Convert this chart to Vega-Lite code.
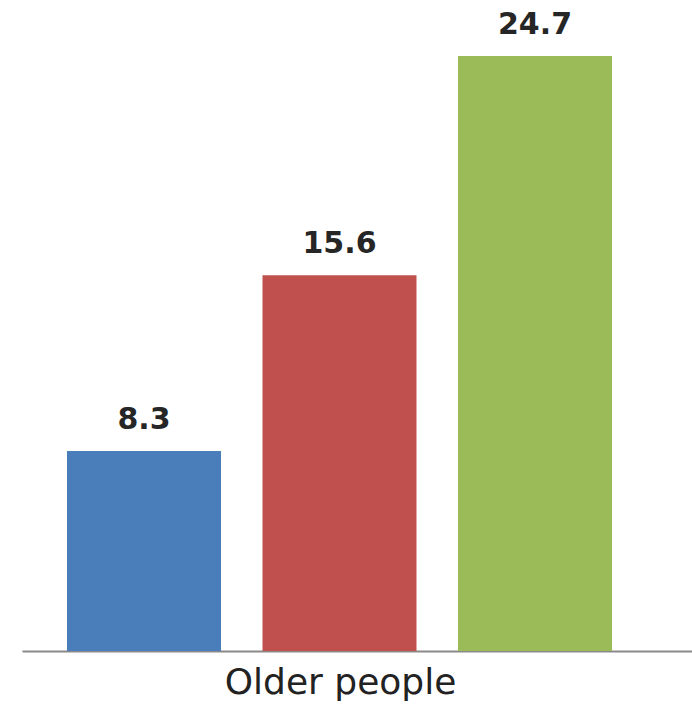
{
  "$schema": "https://vega.github.io/schema/vega-lite/v6.json",
  "autosize": "none",
  "width": 670,
  "height": 624,
  "padding": {"left": 22, "top": 27, "right": 0, "bottom": 56},
  "background": "white",
  "config": {"view": {"stroke": null}},
  "data": {
    "values": [
      {"series": "A", "group": "Older people", "value": 8.3},
      {"series": "B", "group": "Older people", "value": 15.6},
      {"series": "C", "group": "Older people", "value": 24.7}
    ]
  },
  "encoding": {
    "x": {
      "field": "series",
      "type": "nominal",
      "sort": null,
      "scale": {"paddingInner": 0.2123, "paddingOuter": 0.3197, "align": 0.36},
      "axis": {
        "title": "Older people",
        "labels": false,
        "ticks": false,
        "domainColor": "#8a8a8a",
        "domainWidth": 2,
        "titleFont": "DejaVu Sans",
        "titleFontSize": 36,
        "titleFontWeight": "normal",
        "titleColor": "#222222",
        "titleX": 318,
        "titleY": 42,
        "titleAlign": "center",
        "titleBaseline": "alphabetic"
      }
    },
    "y": {
      "field": "value",
      "type": "quantitative",
      "scale": {"domain": [0, 25.9]},
      "axis": null
    }
  },
  "layer": [
    {
      "mark": {"type": "bar"},
      "encoding": {
        "color": {
          "field": "series",
          "type": "nominal",
          "scale": {"domain": ["A", "B", "C"], "range": ["#4a7ebb", "#c0504d", "#9bbb59"]},
          "legend": null
        }
      }
    },
    {
      "mark": {
        "type": "text",
        "baseline": "alphabetic",
        "dy": -22,
        "font": "DejaVu Sans",
        "fontSize": 30,
        "fontWeight": "bold",
        "color": "#262626"
      },
      "encoding": {
        "text": {"field": "value", "type": "quantitative", "format": ".1f"}
      }
    }
  ]
}
